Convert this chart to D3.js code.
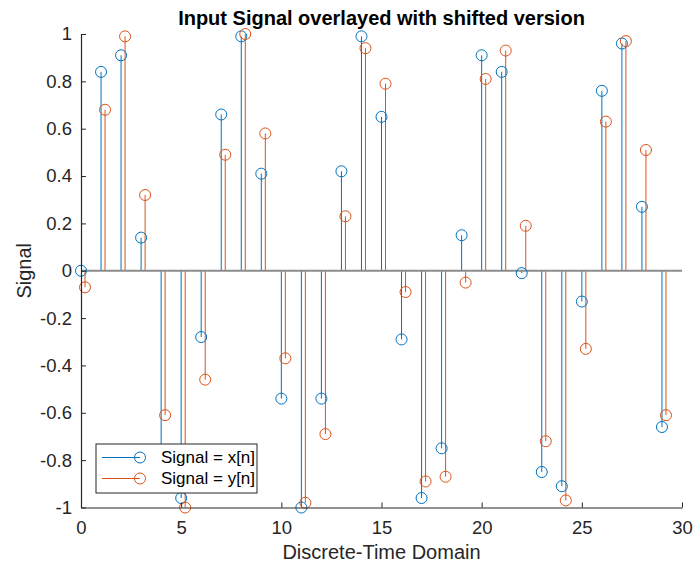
<!DOCTYPE html>
<html>
<head>
<meta charset="utf-8">
<script src="https://cdn.jsdelivr.net/npm/d3@7"></script>
<style>
  body { margin: 0; background: #fff; }
  text { font-family: "Liberation Sans", Arial, sans-serif; }
</style>
</head>
<body>
<svg width="693" height="566"></svg>
<script>
const svg = d3.select("svg");

// data
const n = d3.range(0, 30);
const xSignal = [0, 0.84, 0.91, 0.14, -0.76, -0.96, -0.28, 0.66, 0.99, 0.41,
  -0.54, -1.0, -0.54, 0.42, 0.99, 0.65, -0.29, -0.96, -0.75, 0.15,
  0.91, 0.84, -0.01, -0.85, -0.91, -0.13, 0.76, 0.96, 0.27, -0.66];
const ySignal = [-0.07, 0.68, 0.99, 0.32, -0.61, -1.0, -0.46, 0.49, 1.0, 0.58,
  -0.37, -0.98, -0.69, 0.23, 0.94, 0.79, -0.09, -0.89, -0.87, -0.05,
  0.81, 0.93, 0.19, -0.72, -0.97, -0.33, 0.63, 0.97, 0.51, -0.61];
const yShift = 0.2; // shifted version is drawn slightly to the right
const xTicks = [0, 5, 10, 15, 20, 25, 30];
const yTicks = [-1, -0.8, -0.6, -0.4, -0.2, 0, 0.2, 0.4, 0.6, 0.8, 1];
const seriesNames = ["Signal = x[n]", "Signal = y[n]"];
const colors = ["#0072BD", "#D95319"];

const mLeft = 81, mRight = 682, mTop = 34, mBottom = 507.5;
const axisColor = "#262626";

const x = d3.scaleLinear().domain([0, 30]).range([mLeft, mRight]);
const y = d3.scaleLinear().domain([-1, 1]).range([mBottom, mTop]);

// stems
const series = [
  { pts: n.map((d, i) => [d, xSignal[i]]), color: colors[0] },
  { pts: n.map((d, i) => [d + yShift, ySignal[i]]), color: colors[1] }
];

series.forEach(s => {
  svg.append("g").selectAll("line").data(s.pts).join("line")
    .attr("x1", d => x(d[0])).attr("x2", d => x(d[0]))
    .attr("y1", y(0)).attr("y2", d => y(d[1]))
    .attr("stroke", s.color).attr("stroke-width", 1);
});

// baseline
svg.append("line")
  .attr("x1", x(0)).attr("x2", x(30))
  .attr("y1", y(0)).attr("y2", y(0))
  .attr("stroke", "#8c8c8c").attr("stroke-width", 2);

series.forEach(s => {
  svg.append("g").selectAll("circle").data(s.pts).join("circle")
    .attr("cx", d => x(d[0])).attr("cy", d => y(d[1]))
    .attr("r", 5.5)
    .attr("fill", "none").attr("stroke", s.color).attr("stroke-width", 1);
});

// axes
const xAxis = svg.append("g")
  .attr("transform", `translate(0,${mBottom})`)
  .call(d3.axisBottom(x).tickValues(xTicks).tickSizeInner(-5).tickSizeOuter(0).tickPadding(13));
const yAxis = svg.append("g")
  .attr("transform", `translate(${mLeft},0)`)
  .call(d3.axisLeft(y).tickValues(yTicks).tickSizeInner(-5).tickSizeOuter(0).tickPadding(9)
    .tickFormat(d => String(d)));

[xAxis, yAxis].forEach(a => {
  a.select(".domain").attr("stroke", axisColor).attr("stroke-width", 1.2);
  a.selectAll(".tick line").attr("stroke", axisColor);
  a.selectAll(".tick text").attr("fill", axisColor)
    .attr("font-size", "18.5px").attr("font-family", "'Liberation Sans', Arial, sans-serif");
});

// title and labels
svg.append("text")
  .attr("x", (mLeft + mRight) / 2).attr("y", 25)
  .attr("text-anchor", "middle")
  .attr("font-size", "20px").attr("font-weight", "bold").attr("fill", "#000")
  .text("Input Signal overlayed with shifted version");

svg.append("text")
  .attr("x", (mLeft + mRight) / 2).attr("y", 559)
  .attr("text-anchor", "middle")
  .attr("font-size", "20px").attr("fill", axisColor)
  .text("Discrete-Time Domain");

svg.append("text")
  .attr("transform", `translate(31,${(mTop + mBottom) / 2}) rotate(-90)`)
  .attr("text-anchor", "middle")
  .attr("font-size", "20px").attr("fill", axisColor)
  .text("Signal");

// legend
const legend = svg.append("g").attr("transform", "translate(96,444)");
legend.append("rect")
  .attr("width", 161).attr("height", 49)
  .attr("fill", "#fff").attr("stroke", axisColor).attr("stroke-width", 1);
seriesNames.forEach((name, i) => {
  const row = legend.append("g").attr("transform", `translate(0,${13.5 + i * 21})`);
  row.append("line").attr("x1", 6).attr("x2", 44).attr("stroke", colors[i]).attr("stroke-width", 1);
  row.append("circle").attr("cx", 44).attr("r", 5.5)
    .attr("fill", "none").attr("stroke", colors[i]).attr("stroke-width", 1);
  row.append("text").attr("x", 65).attr("dy", "0.35em")
    .attr("font-size", "17px").attr("fill", "#000").text(name);
});
</script>
</body>
</html>
